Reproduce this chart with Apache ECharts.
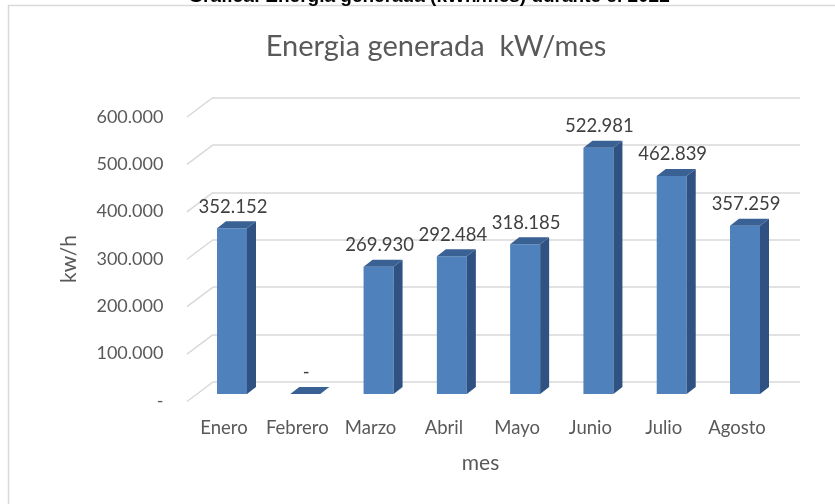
<!DOCTYPE html>
<html><head><meta charset="utf-8">
<script src="https://cdn.jsdelivr.net/npm/echarts@6/dist/echarts.min.js"></script>
<style>html,body{margin:0;padding:0;background:#fff}#c{width:835px;height:504px}</style>
</head><body><div id="c"></div>
<script>
const categories = ['Enero','Febrero','Marzo','Abril','Mayo','Junio','Julio','Agosto'];
const energia = [352152, 0, 269930, 292484, 318185, 522981, 462839, 357259];
const yTicks = [0, 100000, 200000, 300000, 400000, 500000, 600000];
const chartTitle = 'Energìa generada  kW/mes';
const caption = 'Gráfica: Energía generada (kWh/mes) durante el 2022';
const yName = 'kw/h';
const xName = 'mes';

const yMin = 0, yMax = 600000, yInt = 100000;
const FONT = 'Lato';
const TXT = '#595959';

function fmt(v) {
  if (v === 0) return '-';
  return String(Math.round(v)).replace(/\B(?=(\d{3})+(?!\d))/g, '.');
}

const chart = echarts.init(document.getElementById('c'), null, {renderer: 'canvas'});

function renderDiag(params, api) {
  const cs = params.coordSys;
  const y = api.coord([0, api.value(1)])[1];
  return {
    type: 'line',
    shape: {x1: cs.x, y1: y, x2: cs.x - 26, y2: y + 19.5},
    style: {stroke: '#d9d9d9', lineWidth: 1.5}
  };
}

function renderBar(params, api) {
  const i = api.value(0), v = api.value(1);
  const p0 = api.coord([i, 0]);
  const p1 = api.coord([i, v]);
  const w = 30, dx = 9, dy = 7;
  const xl = p0[0] - w / 2, xr = xl + w;
  const yb = p0[1], yt = p1[1];
  const children = [];
  if (yb - yt > 0.5) {
    children.push({type: 'rect', shape: {x: xl, y: yt, width: w, height: yb - yt}, style: {fill: '#4f81bd'}});
    children.push({type: 'polygon', shape: {points: [[xr, yt], [xr + dx, yt - dy], [xr + dx, yb - dy], [xr, yb]]}, style: {fill: '#2f5283'}});
  }
  children.push({type: 'polygon', shape: {points: [[xl, yt], [xl + dx, yt - dy], [xr + dx, yt - dy], [xr, yt]]}, style: {fill: '#3a6194'}});
  children.push({type: 'text', style: {text: fmt(v), x: p0[0] + 1, y: yt - 21.5, align: 'center', verticalAlign: 'middle',
    fontFamily: FONT, fontSize: 18.5, fill: '#404040'}});
  return {type: 'group', children: children};
}

const option = {
  animation: false,
  backgroundColor: '#ffffff',
  title: {
    text: chartTitle, left: 431, top: 27, textAlign: 'center',
    textStyle: {fontFamily: FONT, fontSize: 29, fontWeight: 'normal', color: TXT}
  },
  graphic: [
    {type: 'rect', shape: {x: 8.5, y: 5.5, width: 900, height: 600}, style: {fill: null, stroke: '#d9d9d9', lineWidth: 1.5}, silent: true},
    {type: 'text', x: 429, y: 6.5, style: {text: caption, align: 'center', verticalAlign: 'bottom',
      fontFamily: 'Liberation Sans', fontWeight: 'bold', fontSize: 19, fill: '#000'}, silent: true}
  ],
  grid: [
    {left: 195.35, right: 53.35, top: 111.4, bottom: 110},
    {left: 213, right: 35, top: 97.5, bottom: 122},
    {left: 187.35, right: 61.35, top: 117, bottom: 103}
  ],
  xAxis: [
    {gridIndex: 0, type: 'category', data: categories, show: false},
    {gridIndex: 1, type: 'category', data: categories, show: false},
    {gridIndex: 2, type: 'category', data: categories,
      axisLine: {show: false}, axisTick: {show: false},
      axisLabel: {margin: 18, fontFamily: FONT, fontSize: 18.5, color: TXT, interval: 0},
      name: xName, nameLocation: 'middle', nameGap: 52,
      nameTextStyle: {fontFamily: FONT, fontSize: 21, color: TXT}}
  ],
  yAxis: [
    {gridIndex: 0, type: 'value', min: yMin, max: yMax, interval: yInt, show: false},
    {gridIndex: 1, type: 'value', min: yMin, max: yMax, interval: yInt,
      axisLabel: {show: false}, axisLine: {show: false}, axisTick: {show: false},
      splitLine: {show: true, lineStyle: {color: '#d9d9d9', width: 1.5}}},
    {gridIndex: 2, type: 'value', min: yMin, max: yMax, interval: yInt,
      axisLine: {show: false}, axisTick: {show: false}, splitLine: {show: false},
      axisLabel: {formatter: fmt, margin: 24, fontFamily: FONT, fontSize: 18, color: TXT},
      name: yName, nameLocation: 'middle', nameGap: 108, nameRotate: 90,
      nameTextStyle: {fontFamily: FONT, fontSize: 21, color: TXT}}
  ],
  series: [
    {type: 'custom', xAxisIndex: 1, yAxisIndex: 1, data: yTicks.map(v => [0, v]), renderItem: renderDiag, silent: true, z: 1},
    {type: 'custom', xAxisIndex: 0, yAxisIndex: 0, data: energia.map((v, i) => [i, v]), renderItem: renderBar, z: 3}
  ]
};
chart.setOption(option);
</script>
</body></html>
